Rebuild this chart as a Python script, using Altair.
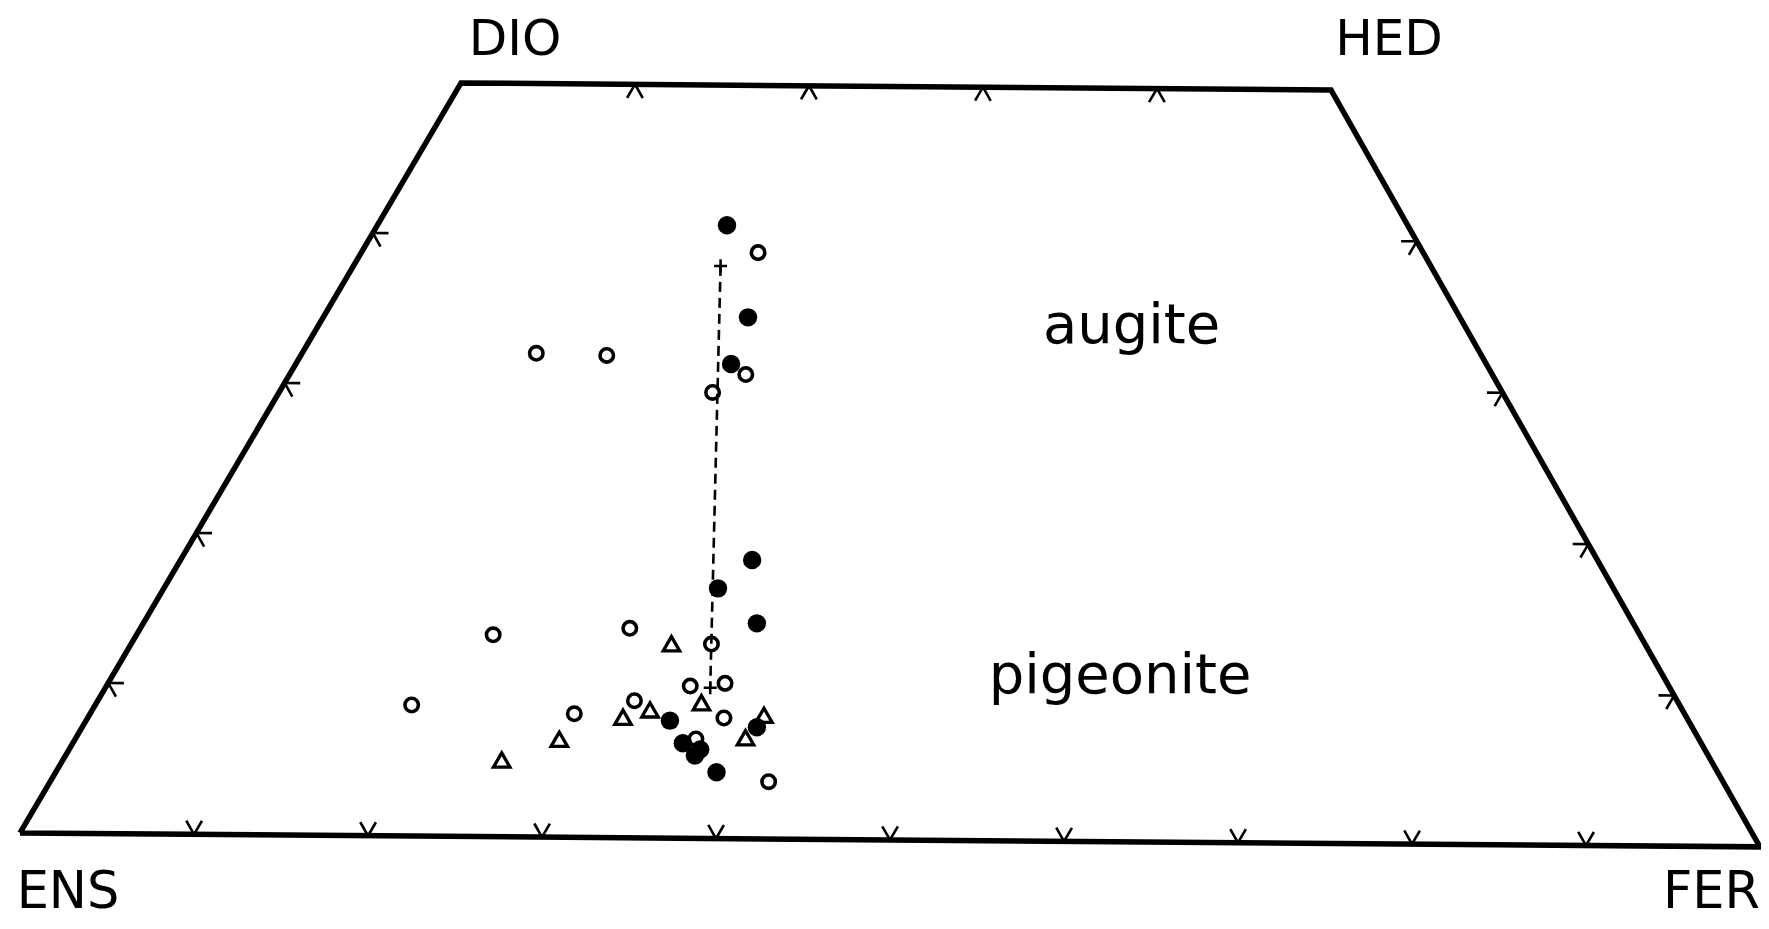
import altair as alt
import pandas as pd

# ---- compositions (mol %): wollastonite (Wo) and ferrosilite (Fs)
filled_wo = [40.7, 34.6, 31.5, 18.5, 16.6, 14.3, 7.8, 7.4, 6.3, 5.9, 5.5, 4.4]
filled_fs = [20.0, 24.3, 24.9, 32.7, 31.7, 35.1, 33.4, 38.6, 34.9, 36.1, 36.0, 37.8]

open_wo = [38.9, 32.1, 32.0, 30.8, 29.6, 13.4, 13.9, 12.9, 10.1, 10.3, 8.7, 8.2, 9.1, 8.0, 6.6, 3.8]
open_fs = [22.7, 13.4, 17.5, 26.1, 24.8, 20.4, 28.0, 33.2, 33.4, 35.3, 18.1, 27.7, 30.7, 36.4, 35.5, 41.1]

tri_wo = [12.9, 6.5, 5.1, 8.0, 8.5, 9.0, 8.2, 6.7]
tri_fs = [30.9, 27.7, 25.1, 30.6, 31.9, 34.6, 38.6, 38.3]

tie_wo = [38.0, 10.0]
tie_fs = [21.0, 34.6]

base_ticks = [10, 20, 30, 40, 50, 60, 70, 80, 90]   # Fs along En-Fs join
top_ticks = [10, 20, 30, 40]                         # Fs along Di-Hd join
side_ticks = [10, 20, 30, 40]                        # Wo along both sides

corner_names = ["ENS", "DIO", "HED", "FER"]
corner_wo = [0, 50, 50, 0]
corner_fs = [0, 0, 50, 100]

region_names = ["augite", "pigeonite"]
region_wo = [34.2, 11.0]
region_fs = [46.55, 57.65]

# ---- geometry helpers (quadrilateral projection, with the slight tilt of the original)
S3 = 0.8660254
T = 0.008
D = 0.9  # tick length in composition units


def proj(wo, fs, xn="x", yn="y"):
    u = f"(datum.{fs} + datum.{wo}/2)"
    v = f"(datum.{wo}*{S3})"
    return {xn: f"{u} + {v}*{T}", yn: f"{v} - {u}*{T}"}


xs = alt.Scale(domain=[-0.69, 100.06], nice=False, zero=False)
ys = alt.Scale(domain=[-5.06, 47.41], nice=False, zero=False)
X = lambda f="x": alt.X(f"{f}:Q", scale=xs, axis=None)
Y = lambda f="y": alt.Y(f"{f}:Q", scale=ys, axis=None)

# frame
frame_df = pd.DataFrame({
    "i": list(range(5)),
    "wo": corner_wo + [corner_wo[0]],
    "fs": corner_fs + [corner_fs[0]],
})
frame = alt.Chart(frame_df).transform_calculate(**proj("wo", "fs")).mark_line(
    color="black", strokeWidth=5.5, strokeJoin="miter"
).encode(x=X(), y=Y(), order="i:O")

# tick marks (short strokes along the grid directions)
segs = []
for f in base_ticks:
    segs += [(0, f, D, f), (0, f, D, f - D)]
for f in top_ticks:
    segs += [(50, f, 50 - D, f), (50, f, 50 - D, f + D)]
for w in side_ticks:
    segs += [(w, 0, w, D), (w, 0, w - D, D)]
    segs += [(w, 100 - w, w, 100 - w - D), (w, 100 - w, w - D, 100 - w)]
tick_df = pd.DataFrame(segs, columns=["wo1", "fs1", "wo2", "fs2"])
ticks = alt.Chart(tick_df).transform_calculate(
    **proj("wo1", "fs1", "x1", "y1")
).transform_calculate(
    **proj("wo2", "fs2", "x2", "y2")
).mark_rule(color="black", strokeWidth=2.6).encode(
    x=X("x1"), y=Y("y1"), x2="x2:Q", y2="y2:Q"
)

# tie line
tie_df = pd.DataFrame({"i": [0, 1], "wo": tie_wo, "fs": tie_fs})
tie = alt.Chart(tie_df).transform_calculate(**proj("wo", "fs")).mark_line(
    color="black", strokeWidth=2.6, strokeDash=[10, 6]
).encode(x=X(), y=Y(), order="i:O")
tie_ends = alt.Chart(tie_df).transform_calculate(**proj("wo", "fs")).mark_point(
    shape="M-1,0L1,0M0,-1L0,1", filled=False, size=170, strokeWidth=2.5,
    color="black", opacity=1
).encode(x=X(), y=Y())

# symbols
open_df = pd.DataFrame({"wo": open_wo, "fs": open_fs})
filled_df = pd.DataFrame({"wo": filled_wo, "fs": filled_fs})
tri_df = pd.DataFrame({"wo": tri_wo, "fs": tri_fs})

opens = alt.Chart(open_df).transform_calculate(**proj("wo", "fs")).mark_point(
    shape="circle", filled=False, size=180, strokeWidth=3.6, color="black", opacity=1
).encode(x=X(), y=Y())
fills = alt.Chart(filled_df).transform_calculate(**proj("wo", "fs")).mark_point(
    shape="circle", filled=True, size=340, color="black", opacity=1
).encode(x=X(), y=Y())
tris = alt.Chart(tri_df).transform_calculate(**proj("wo", "fs")).mark_point(
    shape="triangle-up", filled=False, size=270, strokeWidth=3.3, color="black", opacity=1
).encode(x=X(), y=Y())

# labels
corner_df = pd.DataFrame({"name": corner_names, "wo": corner_wo, "fs": corner_fs})
offsets = {"ENS": (48, 75, "center", 51), "DIO": (54, -28, "center", 50),
           "HED": (58, -35, "center", 50), "FER": (0, 61, "right", 51)}
corner_layers = []
for nm, (dx, dy, al, fsz) in offsets.items():
    corner_layers.append(
        alt.Chart(corner_df).transform_filter(f"datum.name == '{nm}'")
        .transform_calculate(**proj("wo", "fs"))
        .mark_text(font="DejaVu Sans", fontSize=fsz, color="black", align=al,
                   baseline="alphabetic", dx=dx, dy=dy)
        .encode(x=X(), y=Y(), text="name:N")
    )

region_df = pd.DataFrame({"name": region_names, "wo": region_wo, "fs": region_fs})
regions = alt.Chart(region_df).transform_calculate(**proj("wo", "fs")).mark_text(
    font="DejaVu Sans", fontSize=56, color="black", align="center", baseline="middle"
).encode(x=X(), y=Y(), text="name:N")

chart = alt.layer(
    frame, ticks, tie, tie_ends, opens, tris, fills, regions, *corner_layers
).properties(
    width=1753, height=913,
    autosize=alt.AutoSizeParams(type="none"),
    padding=0,
    background="white",
).configure_view(stroke=None)

chart.save("out.html", embed_options={"renderer": "svg", "actions": False})
